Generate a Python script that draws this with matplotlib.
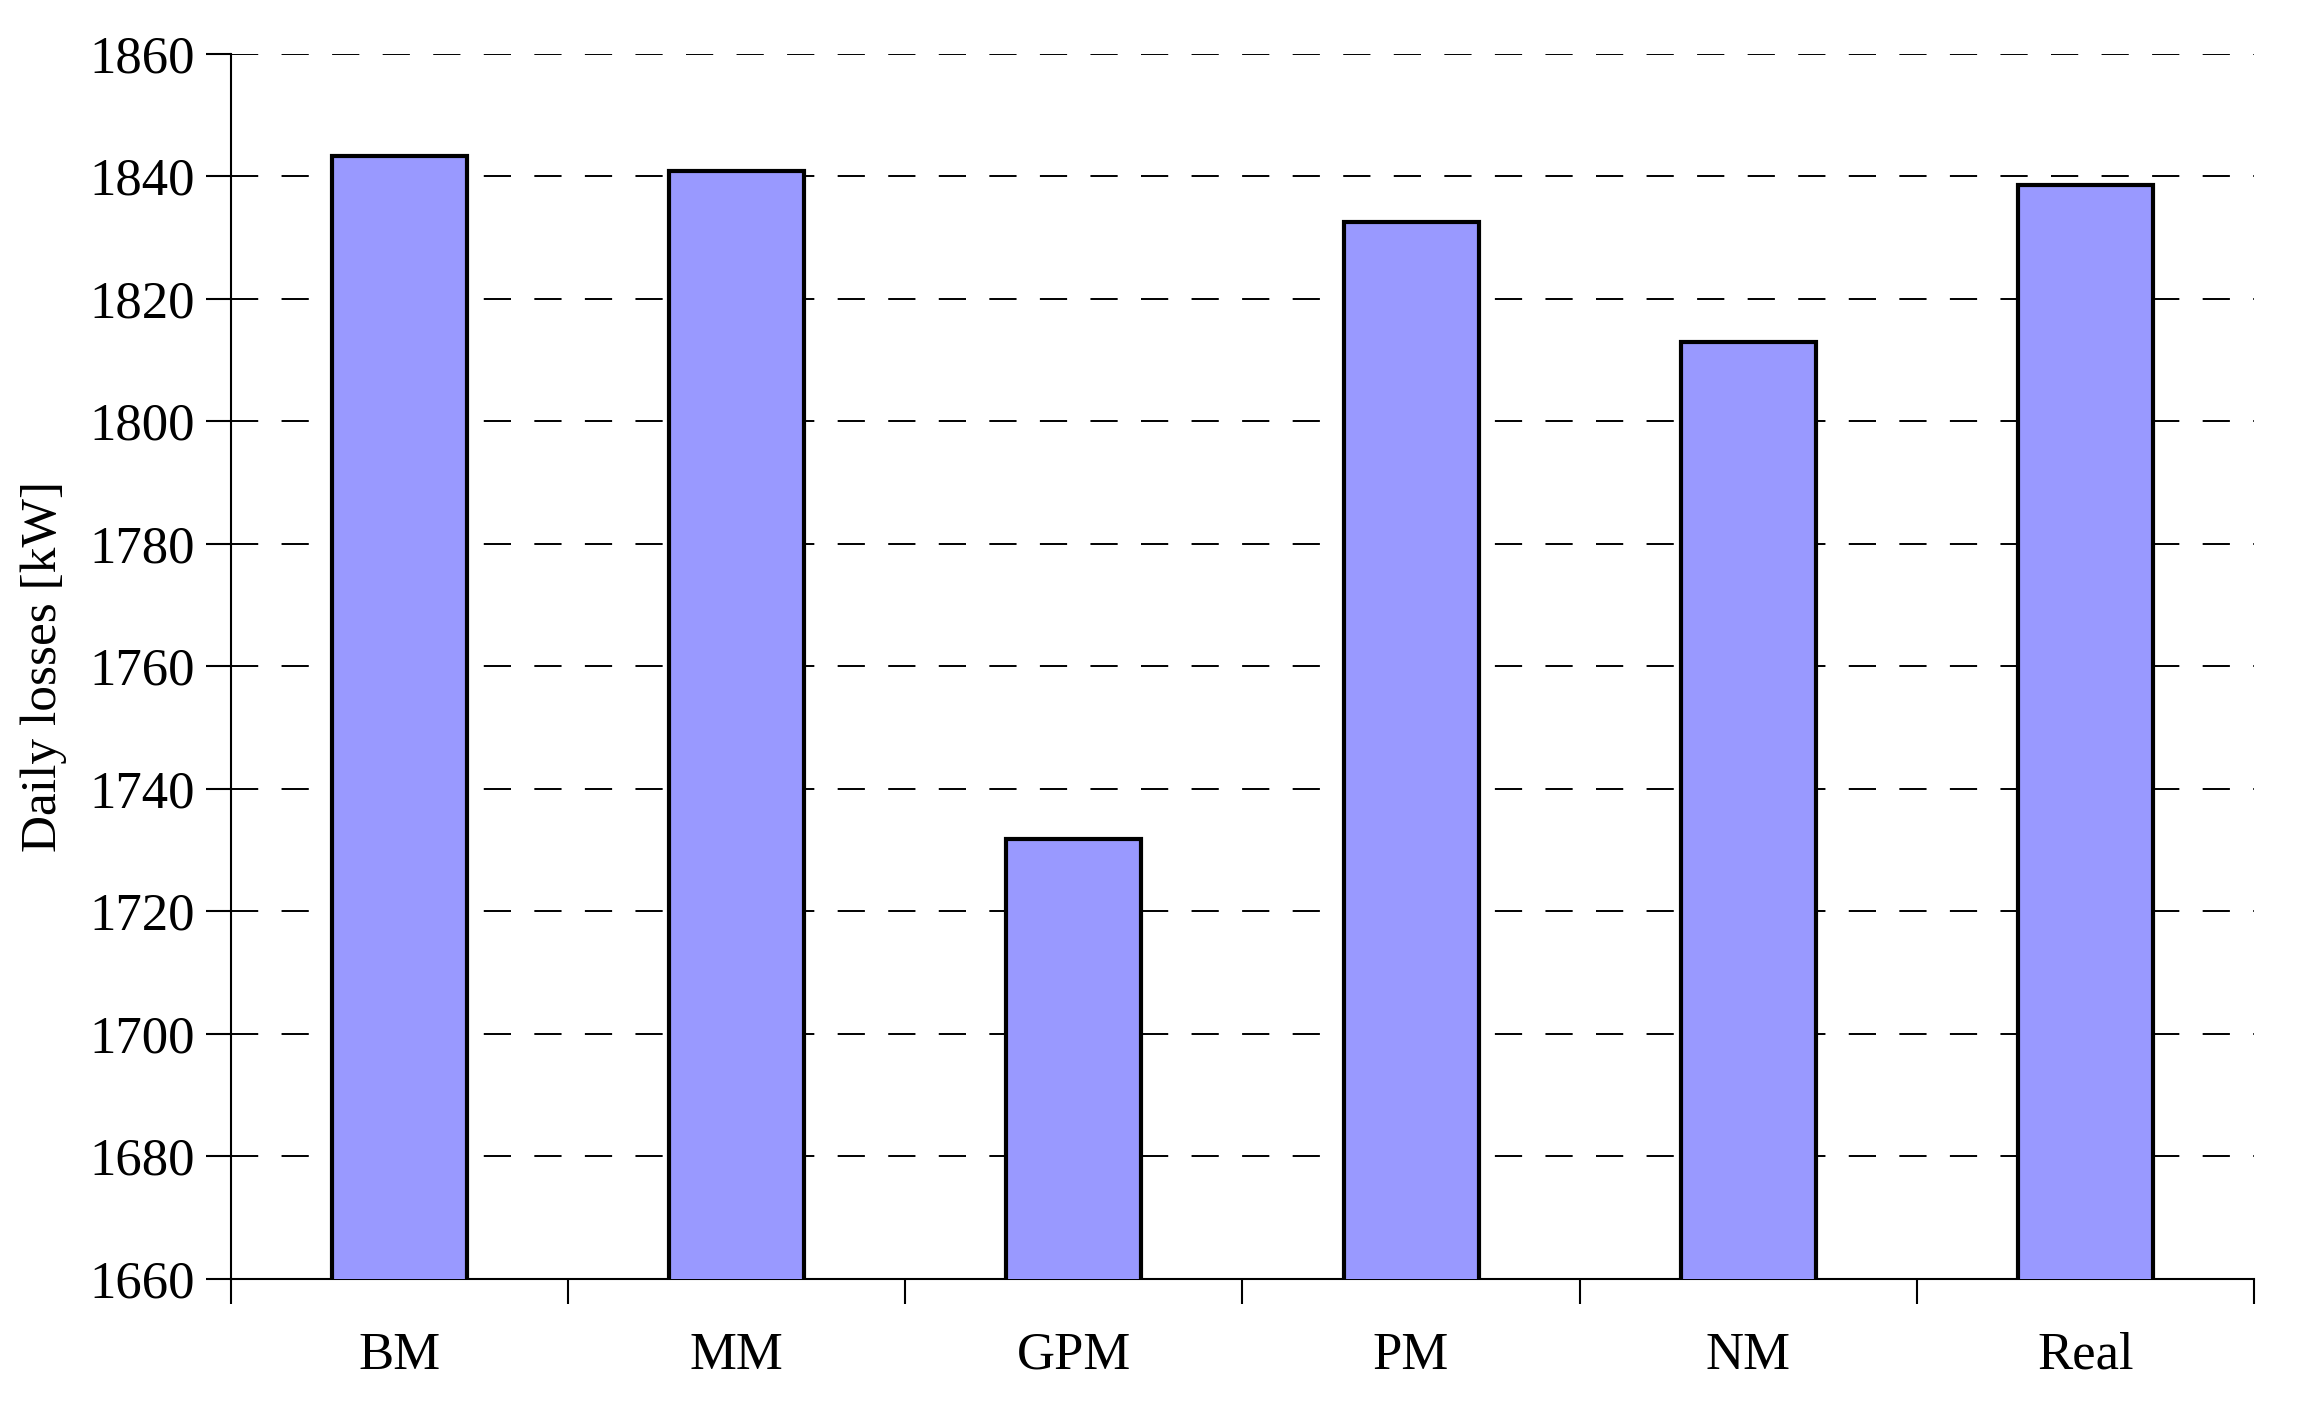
import numpy as np
import matplotlib.pyplot as plt
from matplotlib.ticker import FixedLocator

plt.rcParams['font.family'] = ['Liberation Serif', 'DejaVu Serif']

methods = ['BM', 'MM', 'GPM', 'PM', 'NM', 'Real']
losses = [1843.3, 1840.9, 1731.8, 1832.5, 1813.0, 1838.6]
yticks = list(range(1660, 1861, 20))

fig = plt.figure(figsize=(23.05, 14.21), dpi=100)
ax = fig.add_axes([0.100, 0.100, 0.878, 0.862])

x = np.arange(len(methods)) + 0.5
ax.bar(x, losses, width=0.4, color='#9999FF', edgecolor='black', linewidth=3.0, zorder=3)

ax.set_xlim(0, len(methods))
ax.set_ylim(1660, 1860)
ax.set_yticks(yticks)
ax.yaxis.grid(True, linestyle=(0, (14, 12)), color='black', linewidth=1.4, zorder=0)

ax.set_xticks(x)
ax.set_xticklabels(methods)
ax.xaxis.set_minor_locator(FixedLocator(np.arange(len(methods) + 1)))
ax.tick_params(axis='x', which='major', length=0, pad=38, labelsize=38)
ax.tick_params(axis='x', which='minor', length=18, width=1.5, direction='out')
ax.tick_params(axis='y', length=18, width=1.5, direction='out', labelsize=38, pad=8)

for s in ['top', 'right']:
    ax.spines[s].set_visible(False)
ax.spines['left'].set_linewidth(1.5)
ax.spines['bottom'].set_linewidth(1.5)

ax.set_ylabel('Daily losses [kW]', fontsize=37, labelpad=16)

plt.savefig('out.png', format='png')
